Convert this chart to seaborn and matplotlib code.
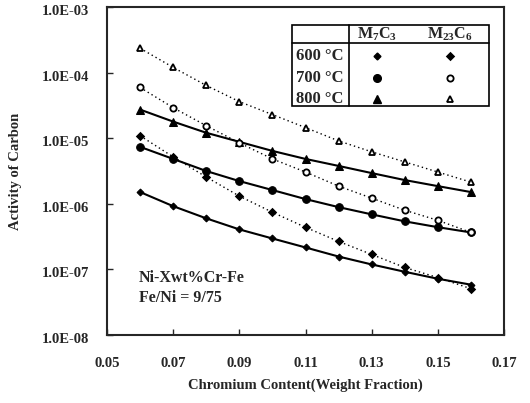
import seaborn as sns
import matplotlib.pyplot as plt
import matplotlib.ticker as mticker
import matplotlib.transforms as mtransforms
from matplotlib.patches import Rectangle
import pandas as pd

# Chromium content (weight fraction)
cr = [0.06, 0.07, 0.08, 0.09, 0.10, 0.11, 0.12, 0.13, 0.14, 0.15, 0.16]

# Activity of carbon, M7C3 (solid lines)
m7c3_600 = [1.51e-6, 9.2e-7, 6.0e-7, 4.07e-7, 2.96e-7, 2.16e-7, 1.57e-7, 1.19e-7, 9.2e-8, 7.2e-8, 5.85e-8]
m7c3_700 = [7.38e-6, 4.83e-6, 3.16e-6, 2.22e-6, 1.62e-6, 1.18e-6, 8.9e-7, 6.9e-7, 5.4e-7, 4.4e-7, 3.66e-7]
m7c3_800 = [2.73e-5, 1.79e-5, 1.21e-5, 8.8e-6, 6.4e-6, 4.83e-6, 3.78e-6, 2.94e-6, 2.30e-6, 1.86e-6, 1.51e-6]

# Activity of carbon, M23C6 (dotted lines)
m23c6_600 = [1.09e-5, 5.19e-6, 2.56e-6, 1.31e-6, 7.43e-7, 4.38e-7, 2.67e-7, 1.69e-7, 1.07e-7, 7.5e-8, 5.08e-8]
m23c6_700 = [5.93e-5, 2.92e-5, 1.55e-5, 8.5e-6, 4.83e-6, 3.05e-6, 1.86e-6, 1.22e-6, 7.98e-7, 5.6e-7, 3.66e-7]
m23c6_800 = [2.35e-4, 1.20e-4, 6.37e-5, 3.61e-5, 2.29e-5, 1.45e-5, 9.1e-6, 6.2e-6, 4.35e-6, 3.05e-6, 2.14e-6]

temps = ["600 °C", "700 °C", "800 °C"]
x_ticks = [0.05, 0.07, 0.09, 0.11, 0.13, 0.15, 0.17]
y_ticks = [1e-8, 1e-7, 1e-6, 1e-5, 1e-4, 1e-3]

sns.set_style("ticks")
plt.rcParams["font.family"] = ["Liberation Serif", "DejaVu Serif"]
plt.rcParams["font.weight"] = "bold"
plt.rcParams["mathtext.fontset"] = "custom"
plt.rcParams["mathtext.rm"] = "Liberation Serif:bold"
plt.rcParams["mathtext.bf"] = "Liberation Serif:bold"

fig = plt.figure(figsize=(5.3, 4.03), dpi=100)
ax = fig.add_axes([107 / 530, 68 / 403, 397 / 530, 328 / 403])

# marker style per temperature: (marker, size M7C3, size M23C6)
styles = {
    "600 °C": ("D", 3.5, 3.5),
    "700 °C": ("o", 5.5, 4.5),
    "800 °C": ("^", 5.5, 5.0),
}

series = [
    ("M7C3", "600 °C", m7c3_600), ("M7C3", "700 °C", m7c3_700), ("M7C3", "800 °C", m7c3_800),
    ("M23C6", "600 °C", m23c6_600), ("M23C6", "700 °C", m23c6_700), ("M23C6", "800 °C", m23c6_800),
]

for phase, temp, vals in series:
    df = pd.DataFrame({"cr": cr, "ac": vals})
    mk, s7, s23 = styles[temp]
    if phase == "M7C3":
        sns.lineplot(data=df, x="cr", y="ac", ax=ax, color="black", linewidth=1.5,
                     marker=mk, markersize=s7, markeredgecolor="black",
                     markerfacecolor="black", sort=False, estimator=None, legend=False)
    else:
        face = "black" if temp == "600 °C" else "white"
        sns.lineplot(data=df, x="cr", y="ac", ax=ax, color="black", linewidth=1.0,
                     linestyle=(0, (1, 2.2)), marker=mk, markersize=s23,
                     markeredgecolor="black", markerfacecolor=face, markeredgewidth=1.3,
                     sort=False, estimator=None, legend=False)

ax.set_yscale("log")
ax.set_ylim(1e-8, 1e-3)
ax.set_xlim(0.05, 0.17)
ax.set_xticks(x_ticks)
ax.set_xticklabels([f"{v:.2f}" for v in x_ticks])
ax.set_yticks(y_ticks)
ax.yaxis.set_major_formatter(mticker.FuncFormatter(lambda v, _: f"{v:.1E}"))
ax.yaxis.set_minor_locator(mticker.NullLocator())
ax.tick_params(axis="both", direction="in", length=4, width=1, labelsize=10.5)
ax.tick_params(axis="x", pad=16)
ax.tick_params(axis="y", pad=13)
# y labels sit a little below their ticks in the original
shift = mtransforms.ScaledTranslation(0, -3 / 100, fig.dpi_scale_trans)
for lab in ax.get_yticklabels():
    lab.set_transform(lab.get_transform() + shift)
for sp in ax.spines.values():
    sp.set_visible(True)
    sp.set_linewidth(1.5)

ax.set_xlabel("Chromium Content(Weight Fraction)", fontsize=10.5, fontweight="bold", labelpad=6)
ax.set_ylabel("Activity of Carbon", fontsize=10.5, fontweight="bold", labelpad=14)

ax.text(0.081, 0.174, "Ni-Xwt%Cr-Fe", transform=ax.transAxes, fontsize=11.5,
        fontweight="bold", va="center", ha="left")
ax.text(0.081, 0.113, "Fe/Ni = 9/75", transform=ax.transAxes, fontsize=11.5,
        fontweight="bold", va="center", ha="left")

# table-style legend
def px_x(p):
    return (p - 107) / 397

def px_y(p):
    return (335 - p) / 328

tl, tr, tt, tb = px_x(292), px_x(489), px_y(25), px_y(106)
ax.add_patch(Rectangle((tl, tb), tr - tl, tt - tb, transform=ax.transAxes,
                       facecolor="white", edgecolor="black", linewidth=1.2, zorder=5))
ax.plot([tl, tr], [px_y(43)] * 2, color="black", lw=1.2, transform=ax.transAxes, zorder=6)
ax.plot([px_x(349)] * 2, [tb, tt], color="black", lw=1.2, transform=ax.transAxes, zorder=6)

col7, col23 = px_x(377), px_x(450)
ax.text(col7, px_y(34), r"$\mathbf{M_7C_3}$", transform=ax.transAxes, fontsize=11.5,
        ha="center", va="center", zorder=7)
ax.text(col23, px_y(34), r"$\mathbf{M_{23}C_6}$", transform=ax.transAxes, fontsize=11.5,
        ha="center", va="center", zorder=7)

row_y = [px_y(56), px_y(78), px_y(99)]
for temp, ry in zip(temps, row_y):
    mk, s7, s23 = styles[temp]
    ax.text(px_x(296), ry, temp, transform=ax.transAxes, fontsize=12,
            fontweight="bold", ha="left", va="center", zorder=7)
    ax.plot([col7], [ry], marker=mk, markersize=s7, color="black",
            transform=ax.transAxes, zorder=7)
    face = "black" if temp == "600 °C" else "white"
    ax.plot([col23], [ry], marker=mk, markersize=s23, markeredgecolor="black",
            markerfacecolor=face, markeredgewidth=1.3, transform=ax.transAxes, zorder=7)

fig.savefig("out.png", dpi=100)
